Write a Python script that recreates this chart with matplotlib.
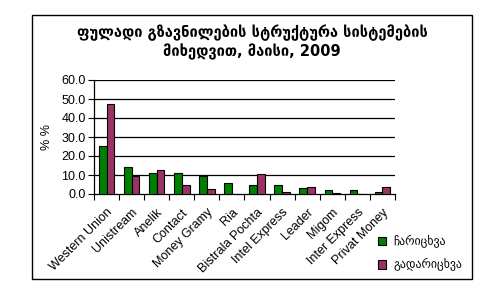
import matplotlib
matplotlib.use("Agg")
import matplotlib.pyplot as plt
import numpy as np
from matplotlib.patches import Rectangle

categories = ["Western Union", "Unistream", "Anelik", "Contact", "Money Gramy", "Ria",
              "Bistrala Pochta", "Intel Express", "Leader", "Migom", "Inter Express", "Privat Money"]
incoming = [25.3, 14.0, 10.9, 10.9, 9.3, 5.6, 4.6, 4.6, 3.0, 1.9, 1.9, 1.0]
outgoing = [47.4, 9.5, 12.5, 4.6, 2.5, 0.0, 10.4, 0.9, 3.7, 0.3, 0.0, 3.7]
series_names = ["ჩარიცხვა", "გადარიცხვა"]
title = "ფულადი გზავნილების სტრუქტურა სისტემების\nმიხედვით, მაისი, 2009"
yticks = [0, 10, 20, 30, 40, 50, 60]

fig = plt.figure(figsize=(5.02, 3.04), dpi=100)
fig.patches.append(Rectangle((32/502, 1 - 279/304), (472-32)/502, (279-15)/304,
                             transform=fig.transFigure, fill=False, edgecolor="black", lw=1.0))

ax = fig.add_axes([94/502, 1 - 194/304, (395-94)/502, (194-80)/304])
x = np.arange(len(categories))
w = 0.31
ax.bar(x - w/2, incoming, w, color="#008000", edgecolor="black", lw=0.8, label=series_names[0], zorder=3)
ax.bar(x + w/2, outgoing, w, color="#993366", edgecolor="black", lw=0.8, label=series_names[1], zorder=3)

ax.set_xlim(-0.5, len(categories) - 0.5)
ax.set_ylim(0, 60)
ax.set_yticks(yticks)
ax.set_yticklabels([f"{v:.1f}" for v in yticks], fontfamily="Liberation Sans", fontsize=9)
for v in yticks[1:]:
    ax.axhline(v, color="black", lw=0.9, zorder=1)
ax.set_xticks(np.arange(len(categories) + 1) - 0.5, minor=False)
ax.set_xticklabels([])
ax.tick_params(axis="x", length=4, width=0.8, direction="out")
ax.tick_params(axis="y", length=4, width=0.8, direction="out", pad=2)
ax.set_xticks(x, minor=True)
ax.set_xticklabels(categories, minor=True, rotation=45, ha="right", va="top",
                   rotation_mode="anchor", fontfamily="Liberation Sans", fontsize=9)
ax.tick_params(axis="x", which="minor", length=0, pad=9)
for s in ["top", "right"]:
    ax.spines[s].set_visible(False)
ax.spines["left"].set_linewidth(0.9)
ax.spines["bottom"].set_linewidth(0.9)
ax.set_ylabel("% %", fontfamily="Liberation Sans", fontsize=9, labelpad=6)

fig.text(252/502, 1 - 42/304, title, ha="center", va="center", fontsize=10.5,
         fontweight="bold", fontfamily="DejaVu Sans", linespacing=1.2)

leg = fig.legend(loc="upper left", bbox_to_anchor=(373/502, 1 - 230/304), frameon=False,
                 prop={"family": "DejaVu Sans", "size": 8.5}, handlelength=0.7, handleheight=0.7,
                 labelspacing=0.9, handletextpad=0.6, borderaxespad=0)

fig.savefig("out.png", dpi=100)
